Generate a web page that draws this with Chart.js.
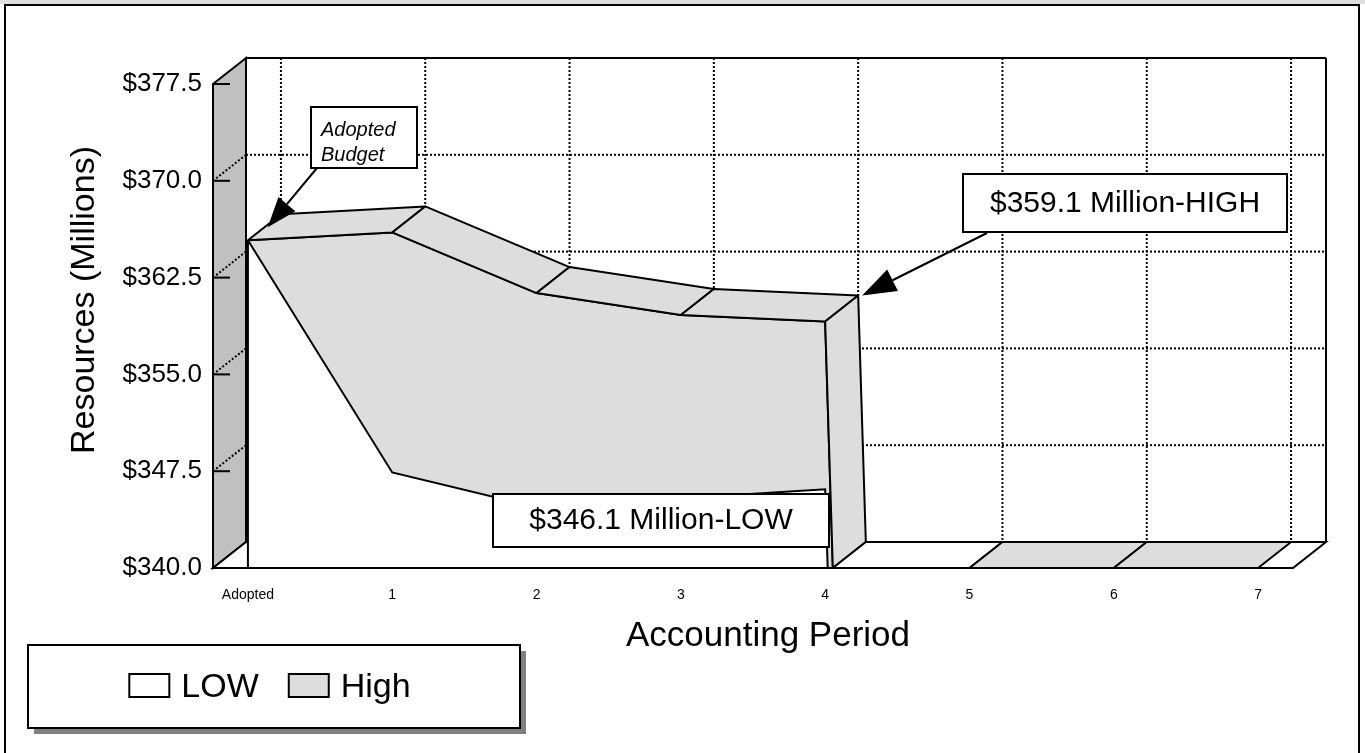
<!DOCTYPE html>
<html>
<head>
<meta charset="utf-8">
<script src="https://cdn.jsdelivr.net/npm/chart.js@4.4.0/dist/chart.umd.min.js"></script>
<style>
  html, body { margin: 0; padding: 0; background: #fff; }
  #wrap { position: relative; width: 1365px; height: 753px; }
</style>
</head>
<body>
<div id="wrap"><canvas id="chart" width="1365" height="753"></canvas></div>
<script>
// Datos del gráfico
const periods = ['Adopted', '1', '2', '3', '4', '5', '6', '7'];
const lowValues = [365.4, 347.4, 344.7, 345.4, 346.1, 0, 0, 0];
const highValues = [365.4, 366.0, 361.3, 359.6, 359.1, 0, 0, 0];
const seriesNames = ['LOW', 'High'];
const seriesColors = ['#ffffff', '#dddddd'];
const yMin = 340, yMax = 377.5, yStep = 7.5;
const xTitle = 'Accounting Period';
const yTitle = 'Resources (Millions)';

const FONT = "'Liberation Sans', Arial, sans-serif";
Chart.defaults.font.family = FONT;
Chart.defaults.color = '#000';

// profundidad 3D (px)
const DX = 33, DY = -26;

function line(ctx, x1, y1, x2, y2) {
    ctx.beginPath();
    ctx.moveTo(x1, y1);
    ctx.lineTo(x2, y2);
    ctx.stroke();
}

function poly(ctx, pts, fill) {
    ctx.beginPath();
    ctx.moveTo(pts[0][0], pts[0][1]);
    for (let i = 1; i < pts.length; i++) ctx.lineTo(pts[i][0], pts[i][1]);
    ctx.closePath();
    if (fill) { ctx.fillStyle = fill; ctx.fill(); }
    ctx.stroke();
}

// puntos de la serie recortados al piso del eje
function clippedPath(values, xs, ys) {
    const lo = ys.min;
    const pts = [];
    values.forEach((v, i) => {
        if (i > 0) {
            const p = values[i - 1];
            if ((p >= lo) !== (v >= lo)) {
                const t = (p - lo) / (p - v);
                pts.push({ x: xs.getPixelForValue(i - 1 + t), y: ys.getPixelForValue(lo), cross: true });
            }
        }
        pts.push({ x: xs.getPixelForValue(i), y: ys.getPixelForValue(Math.max(v, lo)), floor: v < lo });
    });
    return pts;
}

function arrow(ctx, x1, y1, x2, y2, headLen, headW) {
    const ang = Math.atan2(y2 - y1, x2 - x1);
    const bx = x2 - headLen * Math.cos(ang), by = y2 - headLen * Math.sin(ang);
    ctx.lineWidth = 2;
    line(ctx, x1, y1, bx, by);
    ctx.beginPath();
    ctx.moveTo(x2, y2);
    ctx.lineTo(bx + headW / 2 * Math.sin(ang), by - headW / 2 * Math.cos(ang));
    ctx.lineTo(bx - headW / 2 * Math.sin(ang), by + headW / 2 * Math.cos(ang));
    ctx.closePath();
    ctx.fillStyle = '#000';
    ctx.fill();
}

function textBox(ctx, x, y, w, h) {
    ctx.fillStyle = '#fff';
    ctx.fillRect(x, y, w, h);
    ctx.lineWidth = 2;
    ctx.strokeStyle = '#000';
    ctx.strokeRect(x, y, w, h);
}

// Paredes, piso y rejilla
const box3d = {
    id: 'box3d',
    beforeDatasetsDraw(chart) {
        const { ctx, chartArea: a, scales: { x, y } } = chart;
        ctx.save();
        ctx.strokeStyle = '#000';
        ctx.lineWidth = 2;

        // pared lateral
        poly(ctx, [[a.left, a.bottom], [a.left, a.top], [a.left + DX, a.top + DY], [a.left + DX, a.bottom + DY]], '#c0c0c0');
        // piso
        poly(ctx, [[a.left, a.bottom], [a.right, a.bottom], [a.right + DX, a.bottom + DY], [a.left + DX, a.bottom + DY]], '#ffffff');

        // rejilla punteada
        ctx.setLineDash([2, 2]);
        for (let v = yMin + yStep; v < yMax - 0.01; v += yStep) {
            const py = y.getPixelForValue(v);
            line(ctx, a.left + DX, py + DY, a.right + DX, py + DY);
            line(ctx, a.left, py, a.left + DX, py + DY);
        }
        periods.forEach((p, i) => {
            const px = x.getPixelForValue(i) + DX;
            line(ctx, px, a.top + DY, px, a.bottom + DY);
        });
        ctx.setLineDash([]);

        // bordes de la pared del fondo
        line(ctx, a.left + DX, a.top + DY, a.right + DX, a.top + DY);
        line(ctx, a.right + DX, a.top + DY, a.right + DX, a.bottom + DY);

        // marcas del eje Y hacia adentro
        for (let v = yMin; v <= yMax + 0.01; v += yStep) {
            const py = y.getPixelForValue(v);
            line(ctx, a.left, py, a.left + 17, py);
        }
        ctx.restore();
    },
    afterDatasetsDraw(chart) {
        const { ctx, chartArea: a, scales: { x, y } } = chart;
        ctx.save();
        ctx.strokeStyle = '#000';
        ctx.lineWidth = 2;
        ctx.lineJoin = 'round';

        // borde izquierdo de la cara frontal
        line(ctx, x.getPixelForValue(0), y.getPixelForValue(lowValues[0]), x.getPixelForValue(0), a.bottom);

        // banda superior 3D de la serie alta
        const pts = clippedPath(highValues, x, y);
        for (let i = 0; i < pts.length - 1; i++) {
            const p = pts[i], q = pts[i + 1];
            let fill = seriesColors[1];
            if ((p.cross && q.floor) || (p.floor && q.cross)) fill = '#ffffff';
            poly(ctx, [[p.x, p.y], [q.x, q.y], [q.x + DX, q.y + DY], [p.x + DX, p.y + DY]], fill);
        }

        // borde frontal del piso
        line(ctx, a.left, a.bottom, a.right, a.bottom);
        ctx.restore();
    },
    afterDraw(chart) {
        const { ctx, scales: { x, y } } = chart;
        ctx.save();

        // marco exterior
        ctx.fillStyle = '#dedede';
        ctx.fillRect(0, 0, 1365, 4);
        ctx.strokeStyle = '#000';
        ctx.lineWidth = 2;
        ctx.strokeRect(5, 5, 1354, 760);

        // títulos de ejes
        ctx.fillStyle = '#000';
        ctx.textAlign = 'center';
        ctx.textBaseline = 'middle';
        ctx.font = '35px ' + FONT;
        ctx.fillText(xTitle, 768, 636);
        ctx.save();
        ctx.translate(85, 300);
        ctx.rotate(-Math.PI / 2);
        ctx.font = '34px ' + FONT;
        ctx.fillText(yTitle, 0, 0);
        ctx.restore();

        // nota: presupuesto adoptado
        const p0x = x.getPixelForValue(0), p0y = y.getPixelForValue(highValues[0]);
        arrow(ctx, 317, 168, p0x + DX * 0.6, p0y + DY * 0.5, 30, 22);
        textBox(ctx, 311, 107, 106, 61);
        ctx.fillStyle = '#000';
        ctx.font = 'italic 20px ' + FONT;
        ctx.textAlign = 'left';
        ctx.textBaseline = 'middle';
        ctx.fillText('Adopted', 321, 130);
        ctx.fillText('Budget', 321, 155);

        // nota: valor alto
        const p4x = x.getPixelForValue(4), p4y = y.getPixelForValue(highValues[4]);
        arrow(ctx, 987, 233, p4x + DX + 4, p4y + DY, 34, 24);
        textBox(ctx, 963, 174, 324, 58);
        ctx.fillStyle = '#000';
        ctx.font = '30px ' + FONT;
        ctx.textAlign = 'center';
        ctx.fillText('$' + highValues[4].toFixed(1) + ' Million-HIGH', 1125, 204);

        // nota: valor bajo
        textBox(ctx, 493, 494, 336, 53);
        ctx.fillStyle = '#000';
        ctx.fillText('$' + lowValues[4].toFixed(1) + ' Million-LOW', 661, 521);

        // leyenda
        const lx = 28, ly = 645, lw = 492, lh = 83;
        ctx.fillStyle = '#808080';
        ctx.fillRect(lx + 6, ly + 6, lw, lh);
        textBox(ctx, lx, ly, lw, lh);
        ctx.font = '34px ' + FONT;
        ctx.textAlign = 'left';
        const sw = 40, sh = 23, gap = 12, itemGap = 30;
        const items = chart.data.datasets.map(d => ({ label: d.label, color: d.backgroundColor, w: sw + gap + ctx.measureText(d.label).width }));
        const total = items.reduce((s, it) => s + it.w, 0) + itemGap * (items.length - 1);
        let cx = lx + (lw - total) / 2 - 4;
        const cy = ly + lh / 2 - 1;
        items.forEach(it => {
            ctx.fillStyle = it.color;
            ctx.fillRect(cx, cy - sh / 2, sw, sh);
            ctx.strokeStyle = '#000';
            ctx.lineWidth = 2;
            ctx.strokeRect(cx, cy - sh / 2, sw, sh);
            ctx.fillStyle = '#000';
            ctx.fillText(it.label, cx + sw + gap, cy + 2);
            cx += it.w + itemGap;
        });
        ctx.restore();
    }
};

const toPoints = vals => vals.map((v, i) => ({ x: i, y: v }));

const chart = new Chart(document.getElementById('chart'), {
    type: 'line',
    data: {
        datasets: [{
            label: seriesNames[0],
            data: toPoints(lowValues),
            borderColor: '#000',
            borderWidth: 2,
            backgroundColor: seriesColors[0],
            fill: 'start',
            pointRadius: 0,
            tension: 0
        }, {
            label: seriesNames[1],
            data: toPoints(highValues),
            borderColor: '#000',
            borderWidth: 2,
            backgroundColor: seriesColors[1],
            fill: '-1',
            pointRadius: 0,
            tension: 0
        }]
    },
    options: {
        responsive: false,
        animation: false,
        layout: { padding: { top: 84, right: 72, left: 0, bottom: 0 } },
        plugins: {
            legend: { display: false },
            tooltip: { enabled: false }
        },
        scales: {
            x: {
                type: 'linear',
                min: -0.242,
                max: 7.242,
                grid: { display: false, drawTicks: false },
                border: { display: false },
                ticks: {
                    stepSize: 1,
                    includeBounds: false,
                    autoSkip: false,
                    maxRotation: 0,
                    padding: 19,
                    font: { size: 14 },
                    callback: v => Number.isInteger(v) ? periods[v] : ''
                },
                afterFit(s) { s.height = 185; }
            },
            y: {
                min: yMin,
                max: yMax,
                grid: { display: false, drawTicks: false },
                border: { display: false },
                ticks: {
                    stepSize: yStep,
                    padding: 11,
                    font: { size: 26 },
                    callback: v => '$' + v.toFixed(1)
                },
                afterFit(s) { s.width = 213; }
            }
        }
    },
    plugins: [box3d]
});
</script>
</body>
</html>
